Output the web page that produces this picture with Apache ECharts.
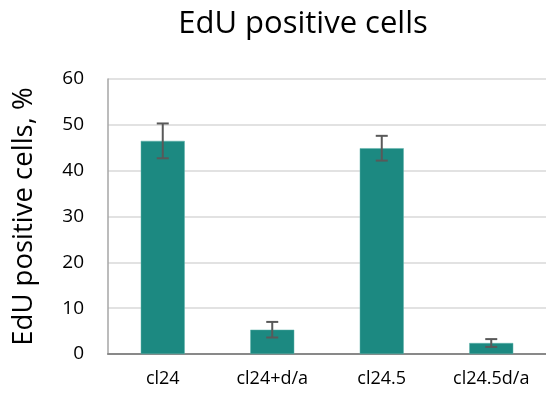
<!DOCTYPE html>
<html>
<head>
<meta charset="utf-8">
<script src="https://cdn.jsdelivr.net/npm/echarts@6/dist/echarts.min.js"></script>
<style>html,body{margin:0;padding:0;background:#fff;}#c{width:546px;height:400px;}</style>
</head>
<body>
<div id="c"></div>
<script>
const categories = ['cl24', 'cl24+d/a', 'cl24.5', 'cl24.5d/a'];
const values = [46.5, 5.3, 44.9, 2.4];
const errors = [3.8, 1.7, 2.7, 0.85];
const yTicks = [0, 10, 20, 30, 40, 50, 60];

const FONT = '"Open Sans", "Noto Sans", sans-serif';
const chart = echarts.init(document.getElementById('c'), null, {renderer: 'canvas'});
const errData = categories.map((c, i) => [i, values[i] - errors[i], values[i] + errors[i]]);

chart.setOption({
  animation: false,
  title: {
    text: 'EdU positive cells',
    left: 298, top: 4, textAlign: 'center',
    textStyle: {fontFamily: FONT, fontSize: 31, fontWeight: 'normal', color: '#000'}
  },
  grid: {left: 108, top: 79, width: 440, height: 275, containLabel: false},
  xAxis: {
    type: 'category', data: categories,
    axisLine: {lineStyle: {color: '#898989', width: 2}},
    axisTick: {show: false},
    axisLabel: {fontFamily: FONT, fontSize: 18, color: '#000', margin: 16}
  },
  yAxis: {
    type: 'value', min: yTicks[0], max: yTicks[yTicks.length - 1], interval: 10,
    name: 'EdU positive cells, %', nameLocation: 'middle', nameGap: 70,
    nameTextStyle: {fontFamily: FONT, fontSize: 27.5, color: '#000'},
    axisLine: {show: true, lineStyle: {color: '#a6a6a6', width: 1.5}},
    axisTick: {show: false},
    axisLabel: {fontFamily: FONT, fontSize: 19, color: '#000', margin: 24},
    splitLine: {lineStyle: {color: '#d9d9d9', width: 1.5}}
  },
  series: [
    {
      type: 'bar', data: values, barWidth: 44,
      itemStyle: {color: '#1c8981', borderColor: '#5fb3ab', borderWidth: 0.5},
      z: 2
    },
    {
      type: 'custom', data: errData, z: 3,
      renderItem: function (params, api) {
        const x = api.value(0);
        const lo = api.coord([x, api.value(1)]);
        const hi = api.coord([x, api.value(2)]);
        const hw = 6;
        const style = {stroke: '#595959', lineWidth: 2};
        return {
          type: 'group',
          children: [
            {type: 'line', shape: {x1: hi[0], y1: hi[1], x2: lo[0], y2: lo[1]}, style: style},
            {type: 'line', shape: {x1: hi[0] - hw, y1: hi[1], x2: hi[0] + hw, y2: hi[1]}, style: style},
            {type: 'line', shape: {x1: lo[0] - hw, y1: lo[1], x2: lo[0] + hw, y2: lo[1]}, style: style}
          ]
        };
      }
    }
  ]
});
</script>
</body>
</html>
